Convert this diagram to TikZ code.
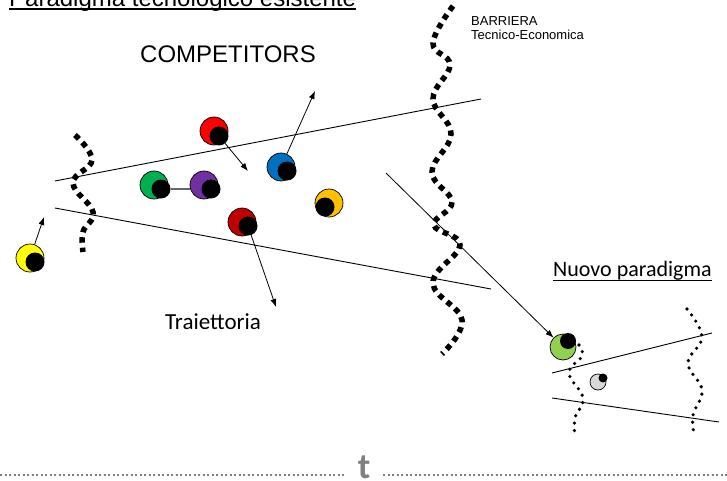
\documentclass[tikz,border=0pt]{standalone}
\usepackage{fontspec}
\setmainfont{Liberation Sans}
\newfontfamily\calibri{Carlito}
\usetikzlibrary{arrows.meta}

\begin{document}
\begin{tikzpicture}[x=1pt, y=-1pt,
  ball/.style = {circle, draw, line width=0.7pt, minimum size=28pt, inner sep=0pt},
  eye/.style = {circle, fill=black, minimum size=19pt, inner sep=0pt},
  trend/.style = {-{Latex[length=8pt, width=6pt]}, line width=0.8pt},
  border/.style = {line width=0.9pt},
  wall/.style = {line width=5.5pt, dash pattern=on 5.5pt off 5pt},
  fence/.style = {line width=3.6pt, line cap=round, dash pattern=on 0pt off 7.5pt},
  words/.style = {inner sep=0pt, anchor=base west}]
  \useasboundingbox (0,0) rectangle (727,481);

  % colours of the competitors
  \definecolor{cRed}{HTML}{FF0000}
  \definecolor{cGreen}{HTML}{00B050}
  \definecolor{cPurple}{HTML}{7030A0}
  \definecolor{cBlue}{HTML}{0070C0}
  \definecolor{cOrange}{HTML}{FFC000}
  \definecolor{cDarkRed}{HTML}{C00000}
  \definecolor{cYellow}{HTML}{FFFF00}
  \definecolor{cLime}{HTML}{92D050}
  \definecolor{cSilver}{HTML}{D9D9D9}

  % texts
  \node[words, font=\fontsize{24}{28}\selectfont] (titolo) at (9,7) {Paradigma tecnologico esistente};
  \draw[line width=1.5pt] ([yshift=-2pt]titolo.base west) -- ([yshift=-2pt]titolo.base east);
  \node[words, font=\fontsize{24}{28}\selectfont] (competitors) at (140,63) {COMPETITORS};
  \node[inner sep=0pt, anchor=north west, align=left, font=\fontsize{13}{14}\selectfont]
    (barriera) at (471,16) {BARRIERA\\Tecnico-Economica};
  \node[words, font=\calibri\fontsize{23}{27}\selectfont] (traiettoria) at (165,329) {Traiettoria};
  \node[words, font=\calibri\fontsize{22}{26}\selectfont] (nuovo) at (553,276) {Nuovo paradigma};
  \draw[line width=1.4pt] ([yshift=-4.5pt]nuovo.base west) -- ([yshift=-4.5pt]nuovo.base east);

  % the funnel of the existing paradigm
  \draw[border] (55,181) -- (481,99);
  \draw[border] (55,208) -- (491,289);

  % barriers
  \draw[wall] plot[smooth, tension=0.7] coordinates {(75,135) (92,160) (73,183) (93,212) (83,232) (83,252)};
  \draw[wall] plot[smooth, tension=0.7] coordinates {(453,6) (433,43) (450,65) (433,99) (451,134)
    (432,172) (452,202) (434,225) (460,245) (433,283) (462,320) (442,354)};

  % competitors
  \node[ball, fill=cRed] (redball) at (214,131) {};
  \node[eye] (redeye) at (219,136) {};
  \node[ball, fill=cGreen] (greenball) at (154,185) {};
  \node[eye] (greeneye) at (161,189) {};
  \node[ball, fill=cPurple] (purpleball) at (204,185) {};
  \node[eye] (purpleeye) at (211,189) {};
  \node[ball, fill=cBlue] (blueball) at (281,167) {};
  \node[eye] (blueeye) at (287,171) {};
  \node[ball, fill=cOrange] (orangeball) at (329,203) {};
  \node[eye] (orangeeye) at (325,207) {};
  \node[ball, fill=cDarkRed] (darkball) at (242,222) {};
  \node[eye] (darkeye) at (248,226) {};
  \node[ball, fill=cYellow] (yellowball) at (30,258) {};
  \node[eye] (yelloweye) at (35,262) {};

  \draw[line width=1.5pt, black!60] (greeneye.east) -- (greeneye.east -| purpleball.west);

  % moves
  \coordinate (redto) at (248,171);
  \coordinate (blueto) at (315,91);
  \coordinate (darkto) at (276,307);
  \coordinate (yellowto) at (44,217);
  \coordinate (salto) at (386,173);
  \draw[trend] (redeye) -- (redto);
  \draw[trend] (blueball) -- (blueto);
  \draw[trend] (darkeye) -- (darkto);
  \draw[trend] (yellowball) -- (yellowto);

  % the new paradigm
  \draw[border] (552,373) -- (712,333);
  \draw[border] (552,398) -- (719,422);
  \draw[fence] plot[smooth, tension=0.7] coordinates {(579,345) (582,356) (569,373) (583,398) (575,418) (575,437)};
  \draw[fence] plot[smooth, tension=0.7] coordinates {(687,309) (702,337) (688,363) (702,390) (693,415) (694,433)};

  \node[ball, fill=cLime, minimum size=26pt] (newball) at (563,347) {};
  \node[eye, minimum size=16pt] (neweye) at (568,341) {};
  \node[ball, fill=cSilver, minimum size=16pt] (grayball) at (598,382) {};
  \node[eye, minimum size=9pt] (grayeye) at (603,378) {};
  \draw[trend] (salto) -- (newball);

  % time axis
  \node[words, anchor=base, text=gray, font=\calibri\bfseries\fontsize{36}{36}\selectfont] (tempo) at (364,478) {t};
  \draw[gray, line width=2pt, dash pattern=on 2pt off 2.5pt] (0,475) -- (345,475);
  \draw[gray, line width=2pt, dash pattern=on 2pt off 2.5pt] (383,475) -- (727,475);
\end{tikzpicture}
\end{document}
